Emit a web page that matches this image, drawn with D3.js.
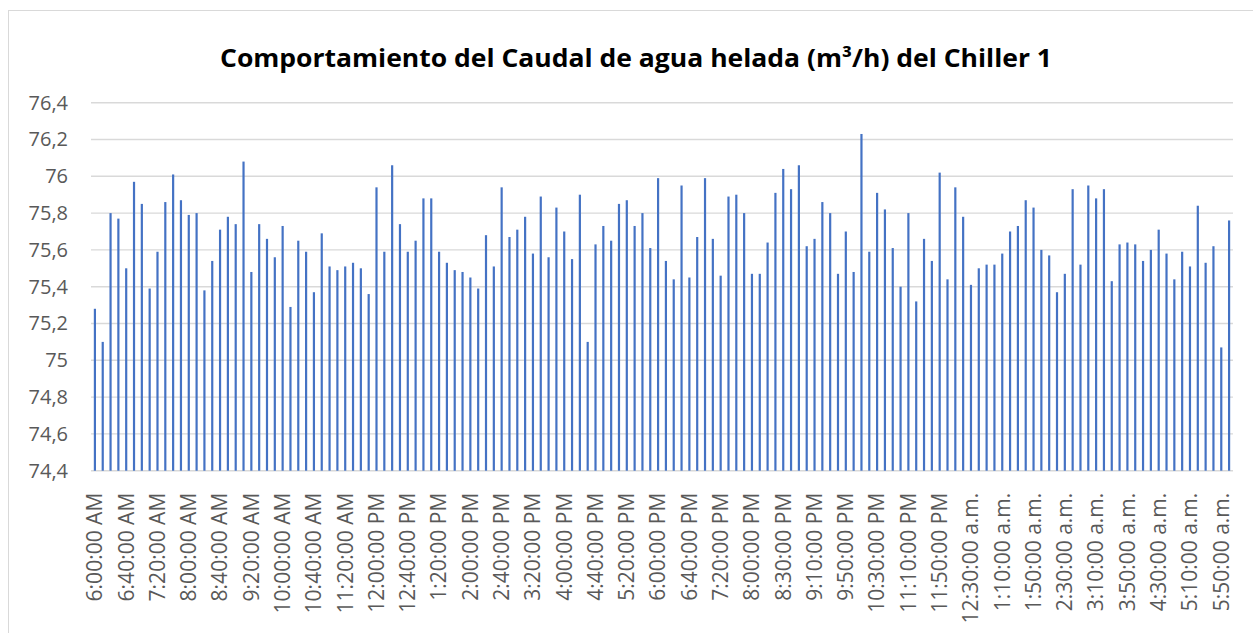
<!DOCTYPE html>
<html>
<head>
<meta charset="utf-8">
<script src="https://cdn.jsdelivr.net/npm/d3@7"></script>
<style>
  body { margin: 0; background: #fff; }
  svg { display: block; }
</style>
</head>
<body>
<svg width="1253" height="633"></svg>
<script>
// caudal de agua helada, lecturas cada 10 min (146 registros)
var caudal = [
  75.28, 75.10, 75.80, 75.77, 75.50, 75.97, 75.85, 75.39, 75.59, 75.86,
  76.01, 75.87, 75.79, 75.80, 75.38, 75.54, 75.71, 75.78, 75.74, 76.08,
  75.48, 75.74, 75.66, 75.56, 75.73, 75.29, 75.65, 75.59, 75.37, 75.69,
  75.51, 75.49, 75.51, 75.53, 75.50, 75.36, 75.94, 75.59, 76.06, 75.74,
  75.59, 75.65, 75.88, 75.88, 75.59, 75.53, 75.49, 75.48, 75.45, 75.39,
  75.68, 75.51, 75.94, 75.67, 75.71, 75.78, 75.58, 75.89, 75.56, 75.83,
  75.70, 75.55, 75.90, 75.10, 75.63, 75.73, 75.65, 75.85, 75.87, 75.73,
  75.80, 75.61, 75.99, 75.54, 75.44, 75.95, 75.45, 75.67, 75.99, 75.66,
  75.46, 75.89, 75.90, 75.80, 75.47, 75.47, 75.64, 75.91, 76.04, 75.93,
  76.06, 75.62, 75.66, 75.86, 75.80, 75.47, 75.70, 75.48, 76.23, 75.59,
  75.91, 75.82, 75.61, 75.40, 75.80, 75.32, 75.66, 75.54, 76.02, 75.44,
  75.94, 75.78, 75.41, 75.50, 75.52, 75.52, 75.58, 75.70, 75.73, 75.87,
  75.83, 75.60, 75.57, 75.37, 75.47, 75.93, 75.52, 75.95, 75.88, 75.93,
  75.43, 75.63, 75.64, 75.63, 75.54, 75.60, 75.71, 75.58, 75.44, 75.59,
  75.51, 75.84, 75.53, 75.62, 75.07, 75.76
];

// etiquetas visibles del eje x (una de cada 4 categorias)
var tickLabels = [
  "6:00:00 AM", "6:40:00 AM", "7:20:00 AM", "8:00:00 AM", "8:40:00 AM",
  "9:20:00 AM", "10:00:00 AM", "10:40:00 AM", "11:20:00 AM", "12:00:00 PM",
  "12:40:00 PM", "1:20:00 PM", "2:00:00 PM", "2:40:00 PM", "3:20:00 PM",
  "4:00:00 PM", "4:40:00 PM", "5:20:00 PM", "6:00:00 PM", "6:40:00 PM",
  "7:20:00 PM", "8:00:00 PM", "8:30:00 PM", "9:10:00 PM", "9:50:00 PM",
  "10:30:00 PM", "11:10:00 PM", "11:50:00 PM", "12:30:00 a.m.", "1:10:00 a.m.",
  "1:50:00 a.m.", "2:30:00 a.m.", "3:10:00 a.m.", "3:50:00 a.m.", "4:30:00 a.m.",
  "5:10:00 a.m.", "5:50:00 a.m."
];
var tickStep = 4;

var yTicks = [74.4, 74.6, 74.8, 75, 75.2, 75.4, 75.6, 75.8, 76, 76.2, 76.4];

var titulo = "Comportamiento del Caudal de agua helada (m³/h) del Chiller 1";

var svg = d3.select("svg");
var plotLeft = 91, plotRight = 1233, plotTop = 102.7, plotBottom = 470.7;

// marco del grafico
svg.append("rect")
    .attr("x", 8.5).attr("y", 10.5)
    .attr("width", 1260).attr("height", 650)
    .attr("fill", "#fff")
    .attr("stroke", "#d9d9d9")
    .attr("stroke-width", 1);

svg.append("text")
    .attr("x", 636).attr("y", 67)
    .attr("text-anchor", "middle")
    .attr("textLength", 832)
    .attr("lengthAdjust", "spacingAndGlyphs")
    .style("font-family", "'Open Sans', sans-serif")
    .style("font-weight", "bold")
    .style("font-size", "25px")
    .attr("fill", "#000")
    .text(titulo);

var x = d3.scaleBand()
    .domain(d3.range(caudal.length))
    .range([plotLeft, plotRight])
    .paddingInner(0.72)
    .paddingOuter(0.36);

var y = d3.scaleLinear()
    .domain([74.4, 76.4])
    .range([plotBottom, plotTop]);

var fmt = function (d) { return d3.format(".1~f")(d).replace(".", ","); };

// grid
svg.append("g")
    .selectAll("line")
    .data(yTicks).enter()
    .append("line")
    .attr("x1", plotLeft).attr("x2", plotRight)
    .attr("y1", function (d) { return y(d); })
    .attr("y2", function (d) { return y(d); })
    .attr("stroke", "#d9d9d9")
    .attr("stroke-width", 1.4);

var yAxis = svg.append("g")
    .attr("transform", "translate(" + plotLeft + ",0)")
    .call(d3.axisLeft(y).tickValues(yTicks).tickFormat(fmt).tickSize(0).tickPadding(23));
yAxis.select(".domain").remove();
yAxis.selectAll("text")
    .style("font-family", "'Open Sans', sans-serif")
    .style("font-size", "20px")
    .attr("fill", "#595959");

svg.append("g")
    .selectAll("rect")
    .data(caudal).enter()
    .append("rect")
    .attr("x", function (d, i) { return x(i); })
    .attr("width", x.bandwidth())
    .attr("y", function (d) { return y(d); })
    .attr("height", function (d) { return y(74.4) - y(d); })
    .attr("fill", "#4472c4");

var xAxis = svg.append("g")
    .attr("transform", "translate(0," + plotBottom + ")")
    .call(d3.axisBottom(x)
        .tickValues(d3.range(0, caudal.length, tickStep))
        .tickFormat(function (d) { return tickLabels[d / tickStep]; })
        .tickSize(0));
xAxis.select(".domain").remove();
xAxis.selectAll("text")
    .attr("transform", "rotate(-90)")
    .attr("x", -22)
    .attr("y", 0)
    .attr("dy", "0.35em")
    .style("text-anchor", "end")
    .style("font-family", "'Open Sans', sans-serif")
    .style("font-size", "21px")
    .attr("fill", "#595959");
</script>
</body>
</html>
